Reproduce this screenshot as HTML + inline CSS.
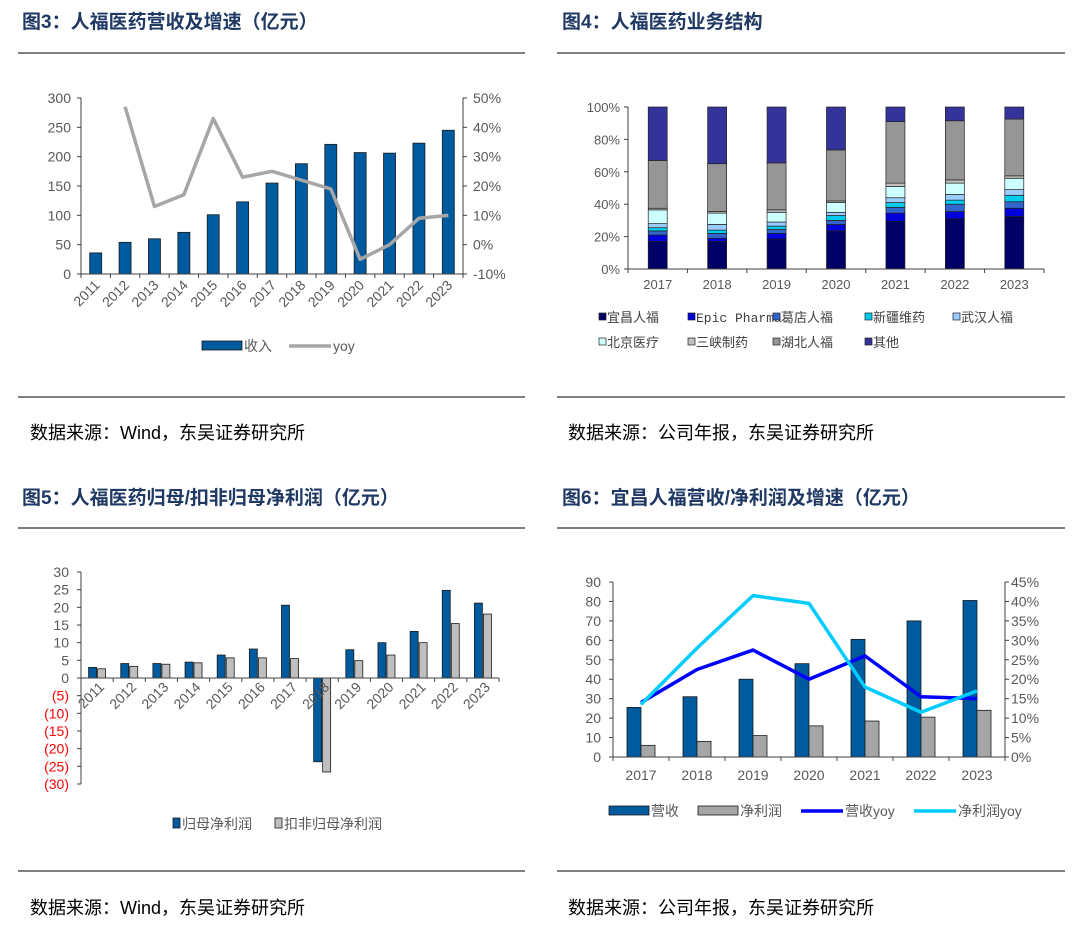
<!DOCTYPE html>
<html><head><meta charset="utf-8"><style>
body{margin:0;background:#fff;}
svg{display:block;font-family:"Liberation Sans","Noto Sans CJK SC",sans-serif;}
.t{font-weight:bold;font-size:19px;fill:#1f3864;}
.src{font-size:18px;fill:#000;}
.tk{font-size:14px;fill:#595959;}
.lg{font-size:14px;fill:#595959;}
</style></head><body>
<svg id="s" width="1080" height="933" viewBox="0 0 1080 933">
<text class="t" x="22" y="28">图3：人福医药营收及增速（亿元）</text>
<text class="t" x="562" y="28">图4：人福医药业务结构</text>
<text class="t" x="22" y="504">图5：人福医药归母/扣非归母净利润（亿元）</text>
<text class="t" x="562" y="504">图6：宜昌人福营收/净利润及增速（亿元）</text>
<line x1="18" y1="53" x2="525" y2="53" stroke="#333" stroke-width="1.2"/>
<line x1="557" y1="53" x2="1065" y2="53" stroke="#333" stroke-width="1.2"/>
<line x1="18" y1="397" x2="525" y2="397" stroke="#333" stroke-width="1.2"/>
<line x1="557" y1="397" x2="1065" y2="397" stroke="#333" stroke-width="1.2"/>
<line x1="18" y1="528" x2="525" y2="528" stroke="#333" stroke-width="1.2"/>
<line x1="557" y1="528" x2="1065" y2="528" stroke="#333" stroke-width="1.2"/>
<line x1="18" y1="871" x2="525" y2="871" stroke="#333" stroke-width="1.2"/>
<line x1="557" y1="871" x2="1065" y2="871" stroke="#333" stroke-width="1.2"/>
<text class="src" x="30" y="439">数据来源：Wind，东吴证券研究所</text>
<text class="src" x="568" y="439">数据来源：公司年报，东吴证券研究所</text>
<text class="src" x="30" y="914">数据来源：Wind，东吴证券研究所</text>
<text class="src" x="568" y="914">数据来源：公司年报，东吴证券研究所</text>
</svg>
<script>
// ---- data ----
const years1 = ['2011','2012','2013','2014','2015','2016','2017','2018','2019','2020','2021','2022','2023'];
const revenue1 = [36,54,60,71,101,123,155,188,221,207,206,223,245];
const yoy1 = [null,47,13,17,43,23,25,22,19,-5,0,9,10];
const leftTicks1 = [0,50,100,150,200,250,300];
const rightTicks1 = [-10,0,10,20,30,40,50];

const years2 = ['2017','2018','2019','2020','2021','2022','2023'];
const segNames = ['宜昌人福','Epic Pharma','葛店人福','新疆维药','武汉人福','北京医疗','三峡制药','湖北人福','其他'];
const seg宜昌 = [17,17,18.5,23.5,29.5,31,32.5];
const segEpic = [4,2,3.5,4,5,4.5,5];
const seg葛店 = [2.5,3,2.5,2.5,3.5,4.5,4];
const seg新疆 = [2,2,2,3,3,2.5,4];
const seg武汉 = [2.5,3.5,2.5,2,3,3.5,3.5];
const seg北京 = [8.5,7,6,6,7,7,7];
const seg三峡 = [1,1,1.5,1,2,2,1.5];
const seg湖北 = [29.5,29.5,29,31.5,38,36.5,35];
const seg其他 = [33,35,34.5,26.5,9,8.5,7.5];
const pctTicks2 = [0,20,40,60,80,100];

const years3 = ['2011','2012','2013','2014','2015','2016','2017','2018','2019','2020','2021','2022','2023'];
const netProfit3 = [3.0,4.1,4.1,4.5,6.5,8.2,20.6,-23.7,8.0,10.0,13.2,24.8,21.2];
const deductedProfit3 = [2.6,3.3,3.9,4.3,5.7,5.7,5.5,-26.6,4.9,6.5,10.0,15.4,18.1];
const ticks3 = [-30,-25,-20,-15,-10,-5,0,5,10,15,20,25,30];

const years4 = ['2017','2018','2019','2020','2021','2022','2023'];
const revenue4 = [25.5,31,40,48,60.5,70,80.5];
const profit4 = [6,8,11,16,18.5,20.5,24];
const revYoy4 = [14,22.5,27.5,20,26,15.5,15];
const profitYoy4 = [13.5,28,41.5,39.5,18,11.5,17];
const leftTicks4 = [0,10,20,30,40,50,60,70,80,90];
const rightTicks4 = [0,5,10,15,20,25,30,35,40,45];

// ---- helpers ----
const svg = document.getElementById('s');
const NS = 'http://www.w3.org/2000/svg';
function mk(tag, attrs, parent){const e=document.createElementNS(NS,tag);for(const k in attrs)e.setAttribute(k,attrs[k]);(parent||svg).appendChild(e);return e;}
function txt(str, attrs, parent){const e=mk('text',attrs,parent);e.textContent=str;return e;}
function grp(){return mk('g',{});}
const axisCol='#404040';

// ===== Chart 1 =====
(function(){
  const L=81,R=463,T=98,B=274;
  const yL=v=>B-(v/300)*(B-T);
  const yR=v=>B-((v+10)/60)*(B-T);
  const cw=(R-L)/years1.length;
  const xc=i=>L+cw*(i+0.5);
  const g=grp();
  
  
  revenue1.forEach((v,i)=>{
    const r=mk('rect',{x:xc(i)-6,y:yL(v),width:12,height:B-yL(v),fill:'#005a9e',stroke:'#1a1a1a','stroke-width':0.8},g);
    
    
  });
  let pts=[];yoy1.forEach((v,i)=>{if(v!==null)pts.push(xc(i)+','+yR(v));});
  const pl=mk('polyline',{points:pts.join(' '),fill:'none',stroke:'#a6a6a6','stroke-width':3.5,'stroke-linejoin':'round'},g);
  
  
  mk('line',{x1:L,y1:T,x2:L,y2:B,stroke:axisCol},g);
  mk('line',{x1:R,y1:T,x2:R,y2:B,stroke:axisCol},g);
  mk('line',{x1:L,y1:B,x2:R,y2:B,stroke:axisCol},g);
  leftTicks1.forEach(v=>{mk('line',{x1:L-4,y1:yL(v),x2:L,y2:yL(v),stroke:axisCol},g);
    const t=txt(String(v),{x:L-10,y:yL(v)+5,'text-anchor':'end',class:'tk'},g);
    
    });
  rightTicks1.forEach(v=>{mk('line',{x1:R,y1:yR(v),x2:R+4,y2:yR(v),stroke:axisCol},g);
    const t=txt(v+'%',{x:R+10,y:yR(v)+5,class:'tk'},g);
    
    });
  for(let i=0;i<=years1.length;i++)mk('line',{x1:L+cw*i,y1:B,x2:L+cw*i,y2:B+4,stroke:axisCol},g);
  years1.forEach((y,i)=>{const t=txt(y,{x:xc(i)+5,y:B+12,'text-anchor':'end',class:'tk',transform:`rotate(-45 ${xc(i)+5} ${B+12})`},g);
    
    });
  mk('rect',{x:202,y:341,width:40,height:9,fill:'#005a9e',stroke:'#1a1a1a','stroke-width':0.8},g);
  txt('收入',{x:244,y:351,class:'lg'},g);
  mk('line',{x1:289,y1:346,x2:331,y2:346,stroke:'#a6a6a6','stroke-width':3.5},g);
  txt('yoy',{x:333,y:351,class:'lg'},g);
})();

// ===== Chart 2 =====
(function(){
  const L=628,R=1044,T=107,B=269;
  const y=v=>B-(v/100)*(B-T);
  const cw=(R-L)/years2.length;
  const xc=i=>L+cw*(i+0.5);
  const series=[seg宜昌,segEpic,seg葛店,seg新疆,seg武汉,seg北京,seg三峡,seg湖北,seg其他];
  const cols=['#000066','#0000dd','#3366cc','#00ccee','#99ccff','#ccffff','#c0c0c0','#969696','#333399'];
  const g=grp();
  
  
  years2.forEach((yr,i)=>{
    let cum=0;
    series.forEach((s,k)=>{
      const r=mk('rect',{x:xc(i)-9.5,y:y(cum+s[i]),width:19,height:y(cum)-y(cum+s[i]),fill:cols[k],stroke:'#222','stroke-width':0.7},g);
      
      
      cum+=s[i];
    });
  });
  mk('line',{x1:L,y1:T,x2:L,y2:B,stroke:axisCol},g);
  mk('line',{x1:L,y1:B,x2:R,y2:B,stroke:axisCol},g);
  pctTicks2.forEach(v=>{mk('line',{x1:L-4,y1:y(v),x2:L,y2:y(v),stroke:axisCol},g);
    const t=txt(v+'%',{x:L-8,y:y(v)+5,'text-anchor':'end',class:'tk',style:'font-size:13px'},g);
    
    });
  for(let i=0;i<=years2.length;i++)mk('line',{x1:L+cw*i,y1:B,x2:L+cw*i,y2:B+4,stroke:axisCol},g);
  years2.forEach((yr,i)=>{const t=txt(yr,{x:xc(i),y:B+20,'text-anchor':'middle',class:'tk',style:'font-size:13px'},g);
    
    });
  const lx=[599,688,773,865,953,599,688,773,865];
  const ly=[322,322,322,322,322,347,347,347,347];
  segNames.forEach((n,k)=>{
    mk('rect',{x:lx[k],y:ly[k]-9,width:7,height:7,fill:cols[k],stroke:'#222','stroke-width':0.7},g);
    const t=txt(n,{x:lx[k]+8,y:ly[k],style:'font-size:13px;fill:#404040;font-family:"Liberation Mono","Noto Sans CJK SC",monospace'},g);
    
    
  });
})();

// ===== Chart 3 =====
(function(){
  const L=81,R=499,T=572,B=784;
  const y=v=>T+((30-v)/60)*(B-T);
  const cw=(R-L)/years3.length;
  const xc=i=>L+cw*(i+0.5);
  const g=grp();
  
  
  years3.forEach((yr,i)=>{
    const a=netProfit3[i],b=deductedProfit3[i];
    const r1=mk('rect',{x:xc(i)-8.5,y:Math.min(y(a),y(0)),width:8,height:Math.abs(y(a)-y(0)),fill:'#005a9e',stroke:'#1a1a1a','stroke-width':0.8},g);
    
    
    const r2=mk('rect',{x:xc(i)+0.5,y:Math.min(y(b),y(0)),width:8,height:Math.abs(y(b)-y(0)),fill:'#bfbfbf',stroke:'#1a1a1a','stroke-width':0.8},g);
    
    
  });
  mk('line',{x1:L,y1:T,x2:L,y2:B,stroke:axisCol},g);
  mk('line',{x1:L,y1:y(0),x2:R,y2:y(0),stroke:axisCol},g);
  ticks3.forEach(v=>{mk('line',{x1:L-4,y1:y(v),x2:L,y2:y(v),stroke:axisCol},g);
    const t=txt(v<0?'('+(-v)+')':String(v),{x:L-12,y:y(v)+5,'text-anchor':'end',class:'tk',style:v<0?'fill:#ff0000':''},g);
    
    });
  for(let i=0;i<=years3.length;i++)mk('line',{x1:L+cw*i,y1:y(0),x2:L+cw*i,y2:y(0)+4,stroke:axisCol},g);
  years3.forEach((yr,i)=>{const bx=xc(i)+8,by=y(0)+10;
    const t=txt(yr,{x:bx,y:by,'text-anchor':'end',class:'tk',transform:`rotate(-45 ${bx} ${by})`},g);
    
    });
  mk('rect',{x:173,y:818,width:7,height:10,fill:'#005a9e',stroke:'#1a1a1a','stroke-width':0.8},g);
  txt('归母净利润',{x:182,y:829,class:'lg'},g);
  mk('rect',{x:275,y:818,width:7,height:10,fill:'#bfbfbf',stroke:'#1a1a1a','stroke-width':0.8},g);
  txt('扣非归母净利润',{x:284,y:829,class:'lg'},g);
})();

// ===== Chart 4 =====
(function(){
  const L=613,R=1005,T=582,B=757;
  const yL=v=>B-(v/90)*(B-T);
  const yR=v=>B-(v/45)*(B-T);
  const cw=(R-L)/years4.length;
  const xc=i=>L+cw*(i+0.5);
  const g=grp();
  
  
  years4.forEach((yr,i)=>{
    const r1=mk('rect',{x:xc(i)-14,y:yL(revenue4[i]),width:14,height:B-yL(revenue4[i]),fill:'#005a9e',stroke:'#1a1a1a','stroke-width':0.8},g);
    
    
    const r2=mk('rect',{x:xc(i),y:yL(profit4[i]),width:14,height:B-yL(profit4[i]),fill:'#a6a6a6',stroke:'#1a1a1a','stroke-width':0.8},g);
    
    
  });
  const l1=mk('polyline',{points:revYoy4.map((v,i)=>xc(i)+','+yR(v)).join(' '),fill:'none',stroke:'#0000ff','stroke-width':3.5,'stroke-linejoin':'round'},g);
  
  
  const l2=mk('polyline',{points:profitYoy4.map((v,i)=>xc(i)+','+yR(v)).join(' '),fill:'none',stroke:'#00ccff','stroke-width':3.5,'stroke-linejoin':'round'},g);
  
  
  mk('line',{x1:L,y1:T,x2:L,y2:B,stroke:axisCol},g);
  mk('line',{x1:R,y1:T,x2:R,y2:B,stroke:axisCol},g);
  mk('line',{x1:L,y1:B,x2:R,y2:B,stroke:axisCol},g);
  leftTicks4.forEach(v=>{mk('line',{x1:L-4,y1:yL(v),x2:L,y2:yL(v),stroke:axisCol},g);
    const t=txt(String(v),{x:L-12,y:yL(v)+5,'text-anchor':'end',class:'tk'},g);
    
    });
  rightTicks4.forEach(v=>{mk('line',{x1:R,y1:yR(v),x2:R+4,y2:yR(v),stroke:axisCol},g);
    const t=txt(v+'%',{x:R+6,y:yR(v)+5,class:'tk'},g);
    
    });
  for(let i=0;i<=years4.length;i++)mk('line',{x1:L+cw*i,y1:B,x2:L+cw*i,y2:B+4,stroke:axisCol},g);
  years4.forEach((yr,i)=>{const t=txt(yr,{x:xc(i),y:B+23,'text-anchor':'middle',class:'tk'},g);
    
    });
  mk('rect',{x:609,y:806,width:40,height:9,fill:'#005a9e',stroke:'#1a1a1a','stroke-width':0.8},g);
  txt('营收',{x:651,y:816,class:'lg'},g);
  mk('rect',{x:698,y:806,width:40,height:9,fill:'#a6a6a6',stroke:'#1a1a1a','stroke-width':0.8},g);
  txt('净利润',{x:740,y:816,class:'lg'},g);
  mk('line',{x1:801,y1:811,x2:843,y2:811,stroke:'#0000ff','stroke-width':3.5},g);
  txt('营收yoy',{x:845,y:816,class:'lg'},g);
  mk('line',{x1:914,y1:811,x2:956,y2:811,stroke:'#00ccff','stroke-width':3.5},g);
  txt('净利润yoy',{x:958,y:816,class:'lg'},g);
})();
</script>
</body></html>
